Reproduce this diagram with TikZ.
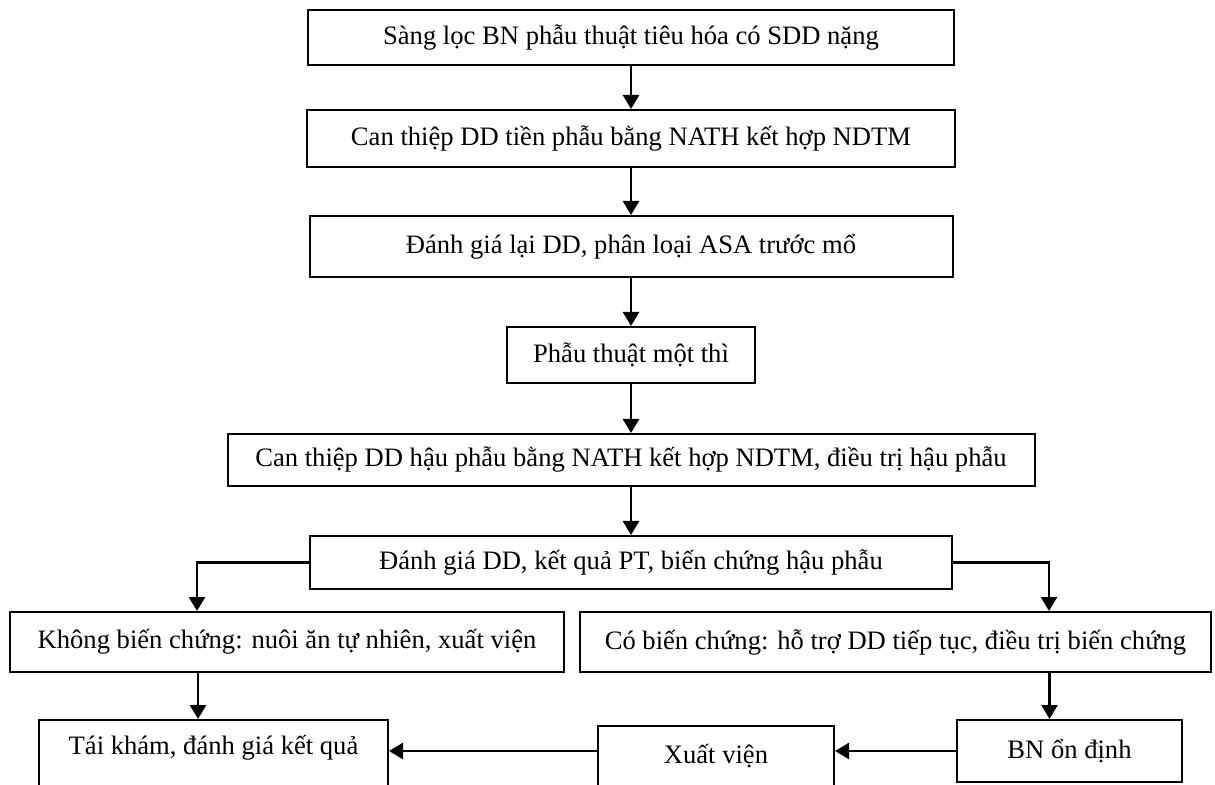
\documentclass[tikz,border=0pt]{standalone}
\usepackage{fontspec}
\setmainfont{Liberation Serif}
\usetikzlibrary{arrows.meta, positioning}
\tikzset{
	stepbox/.style={rectangle, draw=black, line width=1pt, inner sep=0pt, text centered, align=center},
	flowarrow/.style={-{Triangle[length=7pt, width=8pt]}, line width=1.3pt},
}

\begin{document}
\begin{tikzpicture}[x=0.5pt, y=-0.5pt, every node/.style={font=\fontsize{13.3}{16}\selectfont}]
	\useasboundingbox (0,0) rectangle (1215,785);
	\clip (0,0) rectangle (1215,785);
	% main chain
	\node[stepbox, minimum width=323pt, minimum height=27.5pt] (screen) at (631,37.5) {Sàng lọc BN phẫu thuật tiêu hóa có SDD nặng};
	\node[stepbox, below=21.5pt of screen, minimum width=324pt, minimum height=28.5pt] (preop) {Can thiệp DD tiền phẫu bằng NATH kết hợp NDTM};
	\node[stepbox, below=23.5pt of preop, minimum width=321.5pt, minimum height=30.5pt] (reassess) {Đánh giá lại DD, phân loại ASA trước mổ};
	\node[stepbox, below=24pt of reassess, minimum width=124pt, minimum height=28pt] (surgery) {Phẫu thuật một thì};
	\node[stepbox, below=24.5pt of surgery, minimum width=403.5pt, minimum height=26pt] (postop) {Can thiệp DD hậu phẫu bằng NATH kết hợp NDTM, điều trị hậu phẫu};
	\node[stepbox, below=24pt of postop, minimum width=321pt, minimum height=26.5pt] (evaluate) {Đánh giá DD, kết quả PT, biến chứng hậu phẫu};
	% two branches
	\node[stepbox, minimum width=277pt, minimum height=30pt] (nocompl) at (287,642) {Không biến chứng: nuôi ăn tự nhiên, xuất viện};
	\node[stepbox, minimum width=315.5pt, minimum height=30pt] (compl) at (895.5,642) {Có biến chứng: hỗ trợ DD tiếp tục, điều trị biến chứng};
	% bottom row
	\node[stepbox, minimum width=174.5pt, minimum height=45pt, text depth=20pt] (followup) at (213.5,765) {Tái khám, đánh giá kết quả};
	\node[stepbox, minimum width=118pt, minimum height=42pt, text depth=14pt] (discharge) at (716,768) {Xuất viện};
	\node[stepbox, minimum width=112.5pt, minimum height=31pt] (stable) at (1069.5,751) {BN ổn định};

	\draw[flowarrow] (screen) -- (preop);
	\draw[flowarrow] (preop) -- (reassess);
	\draw[flowarrow] (reassess) -- (surgery);
	\draw[flowarrow] (surgery) -- (postop);
	\draw[flowarrow] (postop) -- (evaluate);
	\draw[flowarrow] (evaluate.west) -| ([xshift=-45pt]nocompl.north);
	\draw[flowarrow] (evaluate.east) -| ([xshift=76.75pt]compl.north);
	\draw[flowarrow] ([xshift=-44.5pt]nocompl.south) -- ([xshift=-44.5pt]nocompl.south |- followup.north);
	\draw[flowarrow] ([xshift=77pt]compl.south) -- ([xshift=77pt]compl.south |- stable.north);
	\draw[flowarrow] (stable.west) -- (stable.west -| discharge.east);
	\draw[flowarrow] (discharge.west |- stable.west) -- (stable.west -| followup.east);
\end{tikzpicture}
\end{document}
